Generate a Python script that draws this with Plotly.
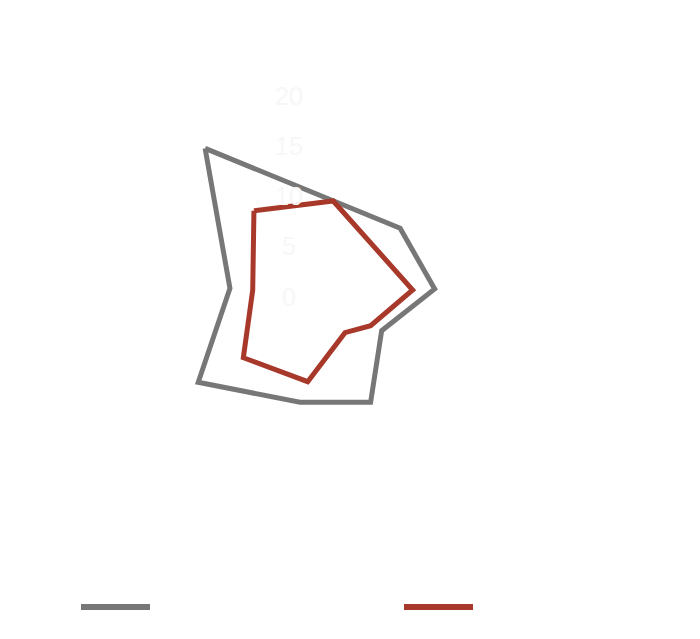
import plotly.graph_objects as go

# Series values (radius, angle in degrees)
gray_r = [16.8, 11.6, 13.4, 9.17, 13.37, 11.37, 13.8, 6.97]
gray_theta = [124.2, 30.8, -0.4, -27.6, -58.3, -90.0, -137.2, 180.2]

red_r = [8.95, 9.27, 11.21, 7.97, 6.31, 9.35, 8.94, 4.71]
red_theta = [120.8, 69.1, -1.0, -28.1, -44.8, -85.3, -129.1, -177.6]

# Radial tick labels
tick_vals = [0, 5, 10, 15, 20]
tick_text = ["0", "5", "10", "15", "20"]

GRAY = "#777777"
RED = "#a8382a"
LABEL = "#f7f7f7"

fig = go.Figure()
fig.add_trace(go.Scatterpolar(
    r=gray_r + gray_r[:1], theta=gray_theta + gray_theta[:1],
    mode="lines", line=dict(color=GRAY, width=5), showlegend=False,
))
fig.add_trace(go.Scatterpolar(
    r=red_r + red_r[:1], theta=red_theta + red_theta[:1],
    mode="lines", line=dict(color=RED, width=5), showlegend=False,
))
# tick labels, centred on the (slightly offset) label axis
fig.add_trace(go.Scatterpolar(
    r=tick_vals, theta=[90] * len(tick_vals), text=tick_text,
    mode="text", textposition="middle center",
    textfont=dict(size=25, color=LABEL, family="Liberation Sans, Arial"),
    showlegend=False, hoverinfo="skip", subplot="polar2",
))

R_MAX = 22
cx, cy, pxu = 300, 288, 10.05
rad = R_MAX * pxu
W, H = 700, 639
# label axis offset (px) relative to the plot centre
lx, ly = cx - 11, cy + 11.5


def dom(x0, y0):
    return dict(x=[(x0 - rad) / W, (x0 + rad) / W],
                y=[(H - y0 - rad) / H, (H - y0 + rad) / H])


hidden_radial = dict(range=[0, R_MAX], visible=False, showgrid=False, showline=False, ticks="")
hidden_angular = dict(thetaunit="degrees", direction="counterclockwise", rotation=0,
                      visible=False, showgrid=False)

fig.update_layout(
    width=W, height=H,
    margin=dict(l=0, r=0, t=0, b=0),
    paper_bgcolor="white", plot_bgcolor="white",
    polar=dict(domain=dom(cx, cy), bgcolor="rgba(0,0,0,0)",
               radialaxis=hidden_radial, angularaxis=hidden_angular),
    polar2=dict(domain=dom(lx, ly), bgcolor="rgba(0,0,0,0)",
                radialaxis=hidden_radial, angularaxis=hidden_angular),
    shapes=[
        dict(type="line", xref="paper", yref="paper", x0=81 / W, x1=150 / W,
             y0=(H - 607) / H, y1=(H - 607) / H, line=dict(color=GRAY, width=6)),
        dict(type="line", xref="paper", yref="paper", x0=404 / W, x1=473 / W,
             y0=(H - 607) / H, y1=(H - 607) / H, line=dict(color=RED, width=6)),
    ],
)

fig.write_html("out.html")
